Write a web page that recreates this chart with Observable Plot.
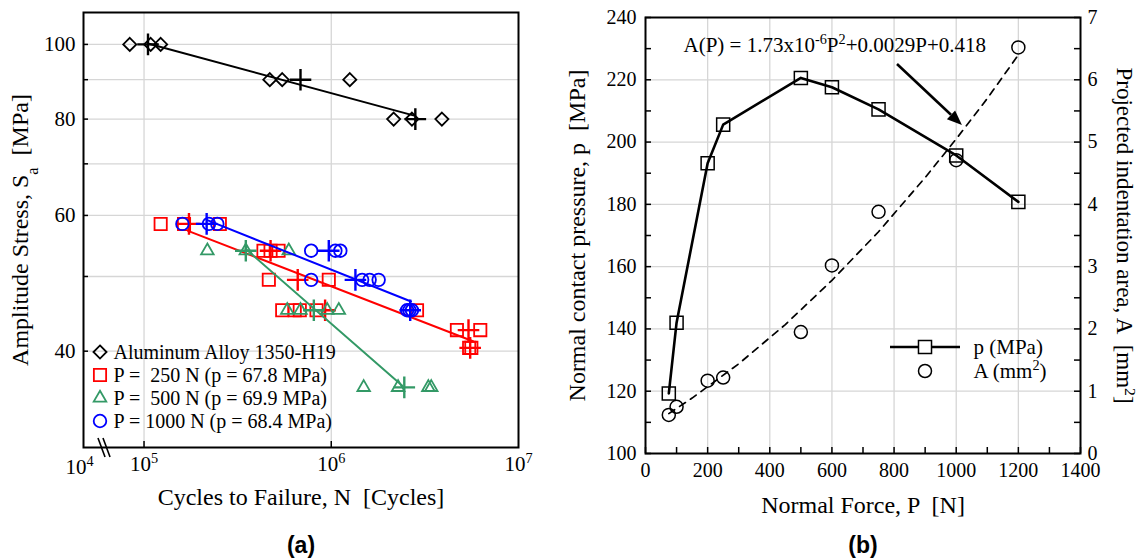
<!DOCTYPE html>
<html><head><meta charset="utf-8">
<script src="https://cdn.jsdelivr.net/npm/d3@7"></script>
<script src="https://cdn.jsdelivr.net/npm/@observablehq/plot@0.6"></script>
<style>
body{margin:0;background:#fff;}
#wrap{position:relative;width:1141px;height:560px;overflow:hidden;background:#fff;}
#pa{position:absolute;left:0;top:0;width:545px;}
#pb{position:absolute;left:560px;top:0;width:581px;}
svg text{white-space:pre;}
</style></head><body><div id="wrap"><div id="pa"></div><div id="pb"></div></div>
<script>
// ---------- Panel (a) data : S-N fretting fatigue ----------
const alN = [83900, 108500, 122700, 469600, 547000, 1256000, 2154000, 2697000, 3898000];
const alS = [100, 100, 100, 90, 90, 90, 80, 80, 80];
const alMeanN = [105000, 685000, 2812000];
const alMeanS = [100, 90, 80];
const alFitN = [106000, 2742000];
const alFitS = [100.2, 80.9];

const p250N = [122700, 163500, 254000, 434500, 474000, 523000, 464000, 970000, 547000, 638000, 679000, 834000, 2871000, 4688000, 6250000, 5450000, 5600000];
const p250S = [58.5, 58.5, 58.5, 54, 54, 54, 49.5, 49.5, 45.2, 45.2, 45.2, 45.2, 45.2, 42.6, 42.6, 40.4, 40.4];
const p250MeanN = [173800, 474000, 662000, 927000, 5407000, 5520000];
const p250MeanS = [58.5, 54, 49.5, 45.2, 42.6, 40.4];
const p250FitN = [171700, 5714000];
const p250FitS = [57.3, 41.2];

const p500N = [217900, 349600, 593000, 582000, 685000, 951000, 1097000, 1490000, 2275000, 3300000, 3420000];
const p500S = [54, 54, 54, 45.2, 45.2, 45.2, 45.2, 35.9, 35.9, 35.9, 35.9];
const p500MeanN = [349600, 807000, 2455000];
const p500MeanS = [54, 45.2, 35.9];
const p500FitN = [348600, 2388000];
const p500FitS = [54.3, 36.1];

const p1000N = [160300, 222200, 246300, 781000, 1052000, 1118000, 781000, 1462000, 1603000, 1791000, 2541000, 2614000, 2697000];
const p1000S = [58.5, 58.5, 58.5, 54, 54, 54, 49.5, 49.5, 49.5, 49.5, 45.2, 45.2, 45.2];
const p1000MeanN = [216000, 970000, 1346000, 2640000];
const p1000MeanS = [58.5, 54, 49.5, 45.2];
const p1000FitN = [216000, 2667000];
const p1000FitS = [59.2, 46.4];

const legendLabelsA = ["Aluminum Alloy 1350-H19", "P =  250 N (p = 67.8 MPa)", "P =  500 N (p = 69.9 MPa)", "P = 1000 N (p = 68.4 MPa)"];
const xTicksA = [1e5, 1e6, 1e7];
const yTicksA = [40, 60, 80, 100];
const yMinorA = [40, 50, 60, 70, 80, 90, 100];

// ---------- Panel (b) data : contact pressure / indentation area ----------
const forceP = [75, 100, 200, 250, 500, 600, 750, 1000, 1200];
const pressureMPa = [119.3, 142.0, 193.2, 205.6, 220.6, 217.6, 210.5, 195.7, 180.8];
const areaMM2 = [0.62, 0.75, 1.17, 1.22, 1.95, 3.02, 3.88, 4.71, 6.52];
const fitP = [75, 150, 300, 450, 600, 750, 900, 1000, 1100, 1200];
const fitA = [0.64, 0.89, 1.44, 2.07, 2.78, 3.56, 4.43, 5.05, 5.70, 6.40];
const legendLabelsB = ["p (MPa)", "A (mm^{2})"];
const xTicksB = [0, 200, 400, 600, 800, 1000, 1200, 1400];
const yTicksB = [100, 120, 140, 160, 180, 200, 220, 240];
const yTicksBRight = [0, 1, 2, 3, 4, 5, 6, 7];
const arrowFrom = {P: 811, p: 224.9};
const arrowTo = {P: 1020, p: 205.3};
const formulaText = "A(P) = 1.73x10^{-6}P^{2}+0.0029P+0.418";

// ---------- helpers ----------
const FONT = "'Liberation Serif', 'Times New Roman', serif";
const SANS = "'Liberation Sans', Arial, sans-serif";
const symbolMap = {diamond2: d3.symbolDiamond2, square2: d3.symbolSquare2, triangle2: d3.symbolTriangle2, circle: d3.symbolCircle};

function richify(root) {
  d3.select(root).selectAll("text").each(function () {
    const el = this;
    const s = el.textContent;
    el.style.fontFamily = (s === "(a)" || s === "(b)") ? SANS : FONT;
    if (!/[\^_]\{/.test(s)) return;
    while (el.firstChild) el.removeChild(el.firstChild);
    for (const part of s.split(/([\^_]\{[^}]*\})/)) {
      if (!part) continue;
      const t = document.createElementNS("http://www.w3.org/2000/svg", "tspan");
      const m = part.match(/^([\^_])\{([^}]*)\}$/);
      if (m) {
        t.textContent = m[2];
        t.setAttribute("font-size", "68%");
        t.setAttribute("baseline-shift", m[1] === "^" ? "super" : "sub");
      } else t.textContent = part;
      el.appendChild(t);
    }
  });
}
const zip = (xs, ys, kx, ky) => xs.map((v, i) => ({[kx]: v, [ky]: ys[i]}));

// ---------- Panel (a) ----------
const seriesA = [
  {color: "#000000", sym: "diamond2", r: 5.9, N: alN, S: alS, mN: alMeanN, mS: alMeanS, fN: alFitN, fS: alFitS},
  {color: "#ff0000", sym: "square2", r: 7.8, N: p250N, S: p250S, mN: p250MeanN, mS: p250MeanS, fN: p250FitN, fS: p250FitS},
  {color: "#339966", sym: "triangle2", r: 6.0, N: p500N, S: p500S, mN: p500MeanN, mS: p500MeanS, fN: p500FitN, fS: p500FitS},
  {color: "#0000ff", sym: "circle", r: 6.3, N: p1000N, S: p1000S, mN: p1000MeanN, mS: p1000MeanS, fN: p1000FitN, fS: p1000FitS}
];

const FWA = 545 - 83 - 27, FHA = 560 - 12 - 113;
const marksA = [
  Plot.gridY(yMinorA, {stroke: "#d6d6d6", strokeOpacity: 1, strokeWidth: 1.3}),
  Plot.gridX([1e5, 1e6], {stroke: "#d6d6d6", strokeOpacity: 1, strokeWidth: 1.3})
];
for (const s of seriesA) {
  marksA.push(Plot.dot(zip(s.N, s.S, "N", "S"), {x: "N", y: "S", symbol: s.sym, r: s.r, stroke: s.color, strokeWidth: 1.8, fill: "none"}));
  marksA.push(Plot.dot(zip(s.mN, s.mS, "N", "S"), {x: "N", y: "S", symbol: "plus", r: 7, stroke: s.color, strokeWidth: 2.4}));
  marksA.push(Plot.line(zip(s.fN, s.fS, "N", "S"), {x: "N", y: "S", stroke: s.color, strokeWidth: 2}));
}
marksA.push(
  Plot.frame({stroke: "black", strokeWidth: 2}),
  Plot.tickY(yMinorA, {stroke: "black", strokeWidth: 1.5, insetRight: FWA - 5}),
  Plot.tickX([1e5, 1e6], {stroke: "black", strokeWidth: 1.5, insetTop: FHA - 6}),
  Plot.axisY(yTicksA, {tickSize: 0, tickPadding: 8, label: null, fontSize: 21}),
  Plot.axisX(xTicksA, {tickSize: 0, tickPadding: 9, label: null, fontSize: 21, tickFormat: d => `10^{${Math.round(Math.log10(d))}}`}),
  Plot.text(["10^{4}"], {frameAnchor: "bottom-left", dx: -4, dy: 20, textAnchor: "middle", lineAnchor: "middle", fontSize: 21}),
  // axis break marks
  (index, scales, values, dim) => {
    const g = d3.create("svg:g").attr("stroke", "black").attr("stroke-width", 1.6);
    const x0 = dim.marginLeft, y0 = dim.height - dim.marginBottom;
    [15, 20].forEach(o => g.append("line").attr("x1", x0 + o).attr("y1", y0 - 9).attr("x2", x0 + o + 7).attr("y2", y0 + 10));
    return g.node();
  },
  // legend symbols
  (index, scales, values, dim) => {
    const g = d3.create("svg:g").attr("fill", "none").attr("stroke-width", 1.8);
    seriesA.forEach((s, i) => {
      g.append("path").attr("d", d3.symbol(symbolMap[s.sym], Math.PI * s.r * s.r)())
        .attr("transform", `translate(${dim.marginLeft + 17},${dim.marginTop + 340 + i * 23})`)
        .attr("stroke", s.color);
    });
    return g.node();
  },
  ...legendLabelsA.map((t, i) => Plot.text([t], {frameAnchor: "top-left", dx: 30, dy: 340 + i * 23, textAnchor: "start", lineAnchor: "middle", fontSize: 20})),
  Plot.text(["Amplitude Stress, S_{a}  [MPa]"], {frameAnchor: "left", rotate: -90, dx: -63, fontSize: 24, textAnchor: "middle", lineAnchor: "middle"}),
  Plot.text(["Cycles to Failure, N  [Cycles]"], {frameAnchor: "bottom", dy: 50, fontSize: 24, textAnchor: "middle", lineAnchor: "middle"}),
  Plot.text(["(a)"], {frameAnchor: "bottom", dy: 98, fontSize: 23, fontWeight: "bold", textAnchor: "middle", lineAnchor: "middle"})
);

const plotA = Plot.plot({
  width: 545, height: 560,
  marginLeft: 83, marginRight: 27, marginTop: 12, marginBottom: 113,
  style: {fontSize: "20px", color: "black", background: "white", overflow: "visible"},
  x: {type: "log", domain: [47500, 1e7]},
  y: {type: "log", domain: [30, 110]},
  marks: marksA
});
richify(plotA);
document.getElementById("pa").appendChild(plotA);

// ---------- Panel (b) ----------
const FWB = 581 - 85 - 61, FHB = 560 - 17 - 107;
const pts = forceP.map((P, i) => ({P, p: pressureMPa[i], A: areaMM2[i]}));
const fit = zip(fitP, fitA, "P", "A");
const toLeft = a => 100 + 20 * a;

const plotB = Plot.plot({
  width: 581, height: 560,
  marginLeft: 85, marginRight: 61, marginTop: 17, marginBottom: 107,
  style: {fontSize: "20px", color: "black", background: "white", overflow: "visible"},
  x: {domain: [0, 1400]},
  y: {domain: [100, 240]},
  marks: [
    Plot.gridX([200, 400, 600, 800, 1000, 1200], {stroke: "#d6d6d6", strokeOpacity: 1, strokeWidth: 1.3}),
    Plot.gridY([120, 140, 160, 180, 200, 220], {stroke: "#d6d6d6", strokeOpacity: 1, strokeWidth: 1.3}),
    Plot.line(fit, {x: "P", y: d => toLeft(d.A), stroke: "black", strokeWidth: 1.7, strokeDasharray: "7,6"}),
    Plot.line(pts, {x: "P", y: "p", stroke: "black", strokeWidth: 2.6}),
    Plot.dot(pts, {x: "P", y: "p", symbol: "square2", r: 8.3, stroke: "black", strokeWidth: 1.5, fill: "none"}),
    Plot.dot(pts, {x: "P", y: d => toLeft(d.A), symbol: "circle", r: 6.5, stroke: "black", strokeWidth: 1.5, fill: "none"}),
    // annotation arrow with a filled head, positioned through the scales
    (index, scales) => {
      const x1 = scales.x(arrowFrom.P), y1 = scales.y(arrowFrom.p);
      const x2 = scales.x(arrowTo.P), y2 = scales.y(arrowTo.p);
      const ang = Math.atan2(y2 - y1, x2 - x1), L = 15, W = 6;
      const bx = x2 - L * Math.cos(ang), by = y2 - L * Math.sin(ang);
      const g = d3.create("svg:g");
      g.append("line").attr("x1", x1).attr("y1", y1).attr("x2", bx).attr("y2", by).attr("stroke", "black").attr("stroke-width", 2.6);
      g.append("path").attr("fill", "black").attr("d",
        `M${x2},${y2}L${bx - W * Math.sin(ang)},${by + W * Math.cos(ang)}L${bx + W * Math.sin(ang)},${by - W * Math.cos(ang)}Z`);
      return g.node();
    },
    Plot.text([formulaText], {frameAnchor: "top-left", dx: 38, dy: 28, textAnchor: "start", lineAnchor: "middle", fontSize: 21}),
    Plot.frame({stroke: "black", strokeWidth: 2}),
    Plot.tickY(d3.range(100, 241, 10), {stroke: "black", strokeWidth: 1.5, insetRight: FWB - 6}),
    Plot.tickY(d3.range(100, 241, 10), {stroke: "black", strokeWidth: 1.5, insetLeft: FWB - 6}),
    Plot.tickX(d3.range(0, 1401, 100), {stroke: "black", strokeWidth: 1.5, insetTop: FHB - 6}),
    Plot.axisY(yTicksB, {tickSize: 0, tickPadding: 9, label: null, fontSize: 20, tickFormat: d => String(d)}),
    Plot.axisY(yTicksBRight.map(toLeft), {anchor: "right", tickSize: 0, tickPadding: 7, label: null, fontSize: 20, tickFormat: d => String((d - 100) / 20)}),
    Plot.axisX(xTicksB, {tickSize: 0, tickPadding: 9, label: null, fontSize: 20, tickFormat: d => String(d)}),
    // legend symbols
    (index, scales, values, dim) => {
      const g = d3.create("svg:g").attr("fill", "none").attr("stroke", "black");
      const x0 = dim.marginLeft, y0 = dim.marginTop;
      g.append("line").attr("x1", x0 + 245).attr("x2", x0 + 315).attr("y1", y0 + 330).attr("y2", y0 + 330).attr("stroke-width", 2.6);
      g.append("path").attr("d", d3.symbol(d3.symbolSquare2, Math.PI * 8.3 * 8.3)()).attr("transform", `translate(${x0 + 280},${y0 + 330})`).attr("stroke-width", 1.5).attr("fill", "white");
      g.append("path").attr("d", d3.symbol(d3.symbolCircle, Math.PI * 6.5 * 6.5)()).attr("transform", `translate(${x0 + 280},${y0 + 354})`).attr("stroke-width", 1.5);
      return g.node();
    },
    ...legendLabelsB.map((t, i) => Plot.text([t], {frameAnchor: "top-left", dx: 328, dy: 330 + i * 24, textAnchor: "start", lineAnchor: "middle", fontSize: 21})),
    Plot.text(["Normal contact pressure, p  [MPa]"], {frameAnchor: "left", rotate: -90, dx: -68, fontSize: 24, textAnchor: "middle", lineAnchor: "middle"}),
    Plot.text(["Projected indentation area, A  [mm^{2}]"], {frameAnchor: "right", rotate: 90, dx: 44, fontSize: 23, textAnchor: "middle", lineAnchor: "middle"}),
    Plot.text(["Normal Force, P  [N]"], {frameAnchor: "bottom", dy: 52, fontSize: 24, textAnchor: "middle", lineAnchor: "middle"}),
    Plot.text(["(b)"], {frameAnchor: "bottom", dy: 92, fontSize: 23, fontWeight: "bold", textAnchor: "middle", lineAnchor: "middle"})
  ]
});
richify(plotB);
document.getElementById("pb").appendChild(plotB);
</script></body></html>
